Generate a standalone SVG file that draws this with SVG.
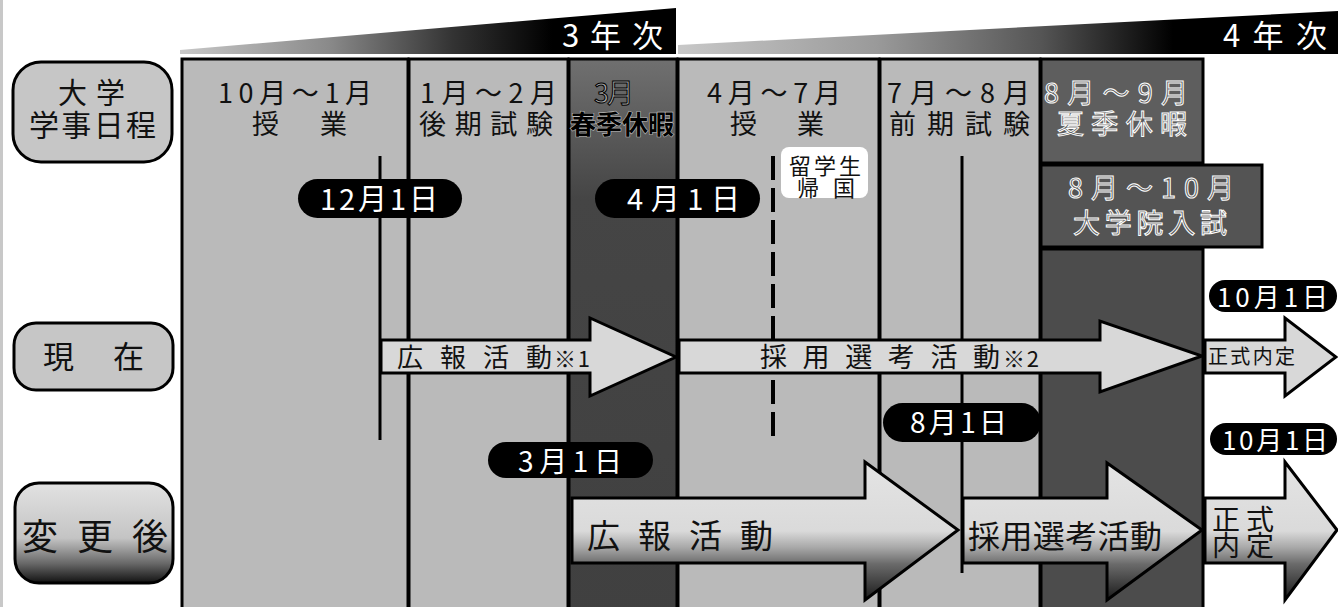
<svg xmlns="http://www.w3.org/2000/svg" width="1338" height="607" viewBox="0 0 1338 607">
<style>
.t{font-family:'Noto Sans CJK JP','Noto Sans CJK SC',sans-serif;fill:#111}
.w{font-family:'Noto Sans CJK JP','Noto Sans CJK SC',sans-serif;fill:#fff}
.o{font-family:'Noto Sans CJK JP','Noto Sans CJK SC',sans-serif;fill:#5a5a5a;stroke:#fff;stroke-width:1}
.col{fill:#bababa;stroke:#000;stroke-width:3}
.dark{fill:#4c4c4c;stroke:#000;stroke-width:3}
.lbl{fill:#c6c6c6;stroke:#000;stroke-width:3}
.pill{fill:#000}
.arr{fill:#d8d8d8;stroke:#000;stroke-width:3;stroke-linejoin:miter}
.big{fill:url(#bigGrad);stroke:#000;stroke-width:3}
.ln{stroke:#000;stroke-width:3;fill:none}
</style>
<defs>
<linearGradient id="bar1" gradientUnits="userSpaceOnUse" x1="180" y1="0" x2="676" y2="0">
<stop offset="0" stop-color="#c8c8c8"/><stop offset="0.3" stop-color="#8a8a8a"/><stop offset="0.55" stop-color="#333"/><stop offset="0.75" stop-color="#000"/>
</linearGradient>
<linearGradient id="bar2" gradientUnits="userSpaceOnUse" x1="678" y1="0" x2="1338" y2="0">
<stop offset="0" stop-color="#c8c8c8"/><stop offset="0.3" stop-color="#9a9a9a"/><stop offset="0.55" stop-color="#555"/><stop offset="0.75" stop-color="#000"/>
</linearGradient>
<linearGradient id="bigGrad" x1="0" y1="0" x2="0" y2="1">
<stop offset="0" stop-color="#e4e4e4"/><stop offset="0.5" stop-color="#dadada"/><stop offset="0.62" stop-color="#a8a8a8"/><stop offset="0.74" stop-color="#6a6a6a"/><stop offset="1" stop-color="#1a1a1a"/>
</linearGradient>
<linearGradient id="col3Grad" x1="0" y1="0" x2="0" y2="1">
<stop offset="0" stop-color="#707070"/><stop offset="0.25" stop-color="#454545"/><stop offset="1" stop-color="#404040"/>
</linearGradient>
<linearGradient id="henGrad" x1="0" y1="0" x2="0" y2="1">
<stop offset="0" stop-color="#e2e2e2"/><stop offset="0.55" stop-color="#c4c4c4"/><stop offset="0.8" stop-color="#6a6a6a"/><stop offset="1" stop-color="#111"/>
</linearGradient>
</defs>
<rect x="0" y="0" width="1338" height="607" fill="#fff"/>
<rect x="0" y="0" width="3" height="607" fill="#c8c8c8"/>

<g id="year-bars">
<polygon points="180,50 676,8 676,54 180,54" fill="url(#bar1)"/>
<text class="w" x="562" y="47" font-size="31" textLength="101" lengthAdjust="spacing">3年次</text>
<polygon points="678,45 1338,11 1338,54 678,54" fill="url(#bar2)"/>
<text class="w" x="1223" y="47" font-size="31" textLength="104" lengthAdjust="spacing">4年次</text>
</g>

<g id="label-daigaku">
<rect class="lbl" x="13" y="62" width="159" height="100" rx="28"/>
<text class="t" x="58" y="104" font-size="29" textLength="67" lengthAdjust="spacing">大学</text>
<text class="t" x="29" y="136" font-size="30" textLength="127" lengthAdjust="spacing">学事日程</text>
</g>
<g id="label-genzai">
<rect class="lbl" x="14" y="323" width="159" height="67" rx="22"/>
<text class="t" x="43" y="368" font-size="31" textLength="101" lengthAdjust="spacing">現在</text>
</g>
<g id="label-henkougo">
<rect x="15" y="483" width="158" height="100" rx="24" fill="url(#henGrad)" stroke="#000" stroke-width="3"/>
<text class="t" x="22" y="550" font-size="36" textLength="146" lengthAdjust="spacing">変更後</text>
</g>

<g id="col-1">
<rect class="col" x="182" y="59" width="226" height="560"/>
<text class="t" x="218" y="103" font-size="27" textLength="154" lengthAdjust="spacing">10月～1月</text>
<text class="t" x="252" y="134" font-size="27" textLength="95" lengthAdjust="spacing">授業</text>
</g>
<g id="col-2">
<rect class="col" x="409" y="59" width="159" height="560"/>
<text class="t" x="420" y="103" font-size="27" textLength="137" lengthAdjust="spacing">1月～2月</text>
<text class="t" x="419" y="134" font-size="27" textLength="134" lengthAdjust="spacing">後期試験</text>
</g>
<g id="col-3">
<rect x="569" y="59" width="108" height="560" fill="url(#col3Grad)" stroke="#000" stroke-width="3"/>
<text x="594" y="103" font-size="27" textLength="40" lengthAdjust="spacing" style="font-family:'Noto Sans CJK JP',sans-serif;fill:#a8a8a8;stroke:#000;stroke-width:1">3月</text>
<text x="570" y="134" font-size="26" font-weight="bold" textLength="104" lengthAdjust="spacing" style="font-family:'Noto Sans CJK JP',sans-serif;fill:#000;stroke:#bbb;stroke-width:1.2;paint-order:stroke">春季休暇</text>
</g>
<g id="col-4">
<rect class="col" x="678" y="59" width="201" height="560"/>
<text class="t" x="707" y="103" font-size="27" textLength="134" lengthAdjust="spacing">4月～7月</text>
<text class="t" x="730" y="134" font-size="27" textLength="94" lengthAdjust="spacing">授業</text>
</g>
<g id="col-5">
<rect class="col" x="880" y="59" width="160" height="560"/>
<text class="t" x="887" y="103" font-size="27" textLength="143" lengthAdjust="spacing">7月～8月</text>
<text class="t" x="889" y="134" font-size="27" textLength="141" lengthAdjust="spacing">前期試験</text>
</g>
<g id="col-6">
<rect x="1041" y="59" width="162" height="104" fill="#5e5e5e" stroke="#000" stroke-width="3"/>
<text class="o" x="1044" y="103" font-size="27" textLength="144" lengthAdjust="spacing">8月～9月</text>
<text class="o" x="1057" y="134" font-size="27" textLength="130" lengthAdjust="spacing">夏季休暇</text>
<rect class="dark" x="1041" y="249" width="162" height="370"/>
</g>
<g id="box-inshi">
<rect x="1041" y="165" width="221" height="82" fill="#545454" stroke="#000" stroke-width="3"/>
<text class="o" x="1068" y="198" font-size="27" textLength="166" lengthAdjust="spacing">8月～10月</text>
<text class="o" x="1073" y="233" font-size="27" textLength="154" lengthAdjust="spacing">大学院入試</text>
</g>

<g id="connectors">
<line class="ln" x1="380" y1="156" x2="380" y2="440"/>
<line x1="773" y1="156" x2="773" y2="440" stroke="#000" stroke-width="4" stroke-dasharray="24 8"/>
<line class="ln" x1="962" y1="156" x2="962" y2="573"/>
<polygon class="arr" points="381,340 590,340 590,318 676,357 590,396 590,373 381,373"/>
<polygon class="arr" points="679,340 1100,340 1100,321 1202,356 1100,392 1100,373 679,373"/>
<polygon class="arr" points="1205,340 1285,340 1285,318 1336,357 1285,396 1285,373 1205,373"/>
<polygon class="big" points="572,498 865,498 865,462 958,530 865,600 865,563 572,563"/>
<polygon class="big" points="963,498 1107,498 1107,463 1202,530 1107,600 1107,563 963,563"/>
<polygon class="big" points="1205,498 1285,498 1285,462 1337,530 1285,600 1285,563 1205,563"/>
</g>

<g id="arrow-labels">
<text class="t" x="397" y="367" font-size="26" textLength="155" lengthAdjust="spacing">広報活動</text>
<text class="t" x="554" y="367" font-size="22" textLength="36" lengthAdjust="spacing">※1</text>
<text class="t" x="760" y="367" font-size="27" textLength="240" lengthAdjust="spacing">採用選考活動</text>
<text class="t" x="1003" y="367" font-size="22" textLength="36" lengthAdjust="spacing">※2</text>
<text class="t" x="1208" y="364" font-size="20" textLength="87" lengthAdjust="spacing">正式内定</text>
<text class="t" x="587" y="548" font-size="33" textLength="186" lengthAdjust="spacing">広報活動</text>
<text class="t" x="968" y="548" font-size="32" textLength="194" lengthAdjust="spacing">採用選考活動</text>
<text class="t" x="1212" y="530" font-size="28" textLength="62" lengthAdjust="spacing">正式</text>
<text class="t" x="1212" y="556" font-size="28" textLength="62" lengthAdjust="spacing">内定</text>
</g>

<g id="note-ryugakusei">
<rect x="781" y="147" width="87" height="51" rx="8" fill="#fff"/>
<text class="t" x="789" y="174" font-size="22" textLength="72" lengthAdjust="spacing">留学生</text>
<text class="t" x="797" y="196" font-size="22" textLength="58" lengthAdjust="spacing">帰国</text>
</g>

<g id="pill-dec1">
<rect class="pill" x="298" y="179" width="164" height="39" rx="19.5"/>
<text class="w" x="320" y="210" font-size="29" textLength="118" lengthAdjust="spacing">12月1日</text>
</g>
<g id="pill-apr1">
<rect class="pill" x="595" y="179" width="165" height="39" rx="19.5"/>
<text class="w" x="627" y="210" font-size="29" textLength="113" lengthAdjust="spacing">4月1日</text>
</g>
<g id="pill-mar1">
<rect class="pill" x="488" y="442" width="165" height="36" rx="18"/>
<text class="w" x="518" y="472" font-size="28" textLength="104" lengthAdjust="spacing">3月1日</text>
</g>
<g id="pill-aug1">
<rect class="pill" x="883" y="403" width="158" height="39" rx="19.5"/>
<text class="w" x="910" y="433" font-size="28" textLength="97" lengthAdjust="spacing">8月1日</text>
</g>
<g id="pill-oct1-now">
<rect class="pill" x="1209" y="280" width="128" height="32" rx="16"/>
<text class="w" x="1217" y="307" font-size="26" textLength="111" lengthAdjust="spacing">10月1日</text>
</g>
<g id="pill-oct1-new">
<rect class="pill" x="1210" y="423" width="127" height="32" rx="16"/>
<text class="w" x="1222" y="450" font-size="26" textLength="106" lengthAdjust="spacing">10月1日</text>
</g>
</svg>
